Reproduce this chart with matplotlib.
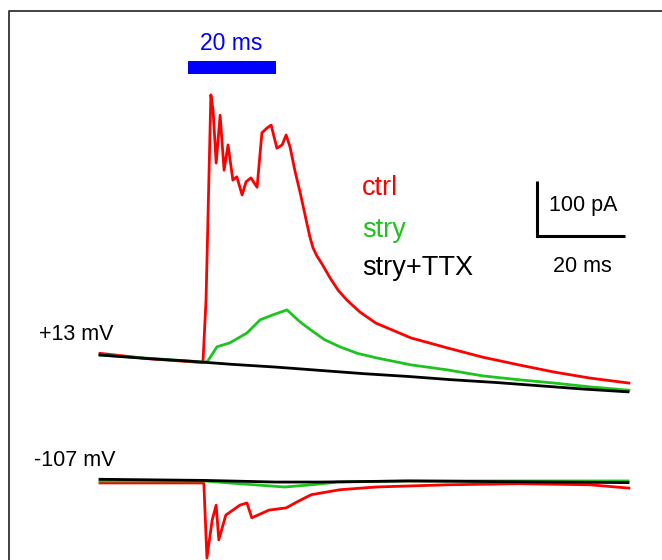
import matplotlib
matplotlib.use("Agg")
import matplotlib.pyplot as plt
from matplotlib.lines import Line2D
from matplotlib.patches import Rectangle

# ---------------- data (time in ms, current in pA) ----------------
# +13 mV traces
ctrl_up_t = [0, 11.4, 23.1, 23.4, 24.1, 25.2, 25.7, 26.4, 27.3, 28.2, 29.1, 30.2, 31.1,
             32.3, 33.2, 34.3, 35.7, 36.8, 38.0, 38.9, 40.2, 41.4, 42.3, 43.2, 44.3,
             45.5, 46.1, 47.0, 47.7, 48.4, 49.3, 50.5, 52.3, 54.1, 56.1, 59.1, 62.7,
             70.7, 78.9, 87.0, 95.2, 103.2, 111.4, 120.2]
ctrl_up_i = [3, -7, -13.6, -12.7, 100, 473, 445, 349, 436, 336, 382, 318, 324,
             291, 315, 322, 305, 404, 413, 418, 376, 382, 400, 378, 335,
             295, 273, 240, 215, 195, 180, 165, 140, 118, 100, 78, 58,
             31, 13, -4, -18, -31, -42, -51]

stry_up_t = [0, 23.9, 24.5, 26.6, 29.5, 33.4, 36.4, 39.3, 42.5, 45.5, 48.0, 51.0, 54.5,
             58.5, 62.7, 70.7, 78.9, 87.0, 95.2, 103.2, 111.4, 120.2]
stry_up_i = [0, -13, -11, 15, 22, 40, 64, 73, 82, 60, 45, 28, 15,
             3, -5, -18, -27, -38, -45, -51, -58, -64]

ttx_up_t = [0, 10, 20, 30, 40, 50, 60, 70, 80, 90, 100, 110, 120]
ttx_up_i = [0, -6, -11, -17, -22, -28, -34, -39, -45, -50, -56, -62, -67]

# -107 mV traces (relative to their own baseline)
ctrl_dn_t = [0, 23.6, 24.3, 25.5, 26.4, 27.0, 28.6, 31.8, 33.4, 34.5, 38.4, 42.3,
             44.8, 48.0, 54.5, 62.7, 78.9, 95.2, 111.4, 120.2]
ctrl_dn_i = [-3.6, -3.6, -140, -71, -44, -107, -62, -44, -40, -67, -53, -49,
             -38, -25, -16, -11, -7, -5, -7, -13]

stry_dn_t = [0, 23.6, 30, 42, 48, 54, 70, 120]
stry_dn_i = [0, 0, -4, -11, -7, -2, 0, 0]

ttx_dn_t = [0, 23.6, 40, 50, 70, 120]
ttx_dn_i = [3, 1, -2, -2, 0, -3]

lower_offset = -229  # pA vertical offset of the -107 mV traces

# stimulus and scale bars
stim_start, stim_end = 20, 40
scale_t, scale_i = 20, 100

labels_legend = ["ctrl", "stry", "stry+TTX"]
colors = {"ctrl": "#ff0000", "stry": "#1ec41e", "stry+TTX": "#000000"}

# ---------------- figure ----------------
W, H = 662, 560
fig = plt.figure(figsize=(W / 100, H / 100), dpi=100)
ax = fig.add_axes([0, 0, 1, 1])
ax.set_xlim(-100 / 4.4, 562 / 4.4)
ax.set_ylim(-205 / 0.55, 355 / 0.55)
ax.axis("off")

lw = 2.0
ax.plot(ctrl_up_t, ctrl_up_i, color=colors["ctrl"], lw=lw)
ax.plot(stry_up_t, stry_up_i, color=colors["stry"], lw=lw)
ax.plot(ttx_up_t, ttx_up_i, color=colors["stry+TTX"], lw=lw)

ax.plot(ctrl_dn_t, [v + lower_offset for v in ctrl_dn_i], color=colors["ctrl"], lw=lw)
ax.plot(stry_dn_t, [v + lower_offset for v in stry_dn_i], color=colors["stry"], lw=lw)
ax.plot(ttx_dn_t, [v + lower_offset for v in ttx_dn_i], color=colors["stry+TTX"], lw=lw)

# stimulus bar
ax.add_patch(Rectangle((stim_start, 511), stim_end - stim_start, 23.5,
                       color="#0000ff", lw=0))

# scale bar
sx0, sy0 = 99.3, 216.4
ax.plot([sx0, sx0, sx0 + scale_t], [sy0 + scale_i, sy0, sy0], color="black",
        lw=2.2, solid_joinstyle="miter", solid_capstyle="butt")


def fx(px):
    return px / W


def fy(py):
    return 1 - py / H


font = "Liberation Sans"
fig.text(fx(231), fy(44), "20 ms", color="#0000ff", fontsize=16.5,
         family=font, ha="center", va="center")
ys = [188, 230, 268]
for lab, y in zip(labels_legend, ys):
    fig.text(fx(362), fy(y), lab, color=colors[lab], fontsize=19.5,
             family=font, ha="left", va="center")
fig.text(fx(549), fy(205), "100 pA", color="black", fontsize=15.5,
         family=font, ha="left", va="center")
fig.text(fx(582), fy(266), "20 ms", color="black", fontsize=15.5,
         family=font, ha="center", va="center")
fig.text(fx(39), fy(334), "+13 mV", color="black", fontsize=15.5,
         family=font, ha="left", va="center")
fig.text(fx(34), fy(460), "-107 mV", color="black", fontsize=15.5,
         family=font, ha="left", va="center")

# frame (left and top only)
fig.add_artist(Line2D([fx(9), fx(9), 1.0], [0.0, fy(11), fy(11)],
                      transform=fig.transFigure, color="#333333", lw=1.3))

fig.savefig("out.png", dpi=100)
